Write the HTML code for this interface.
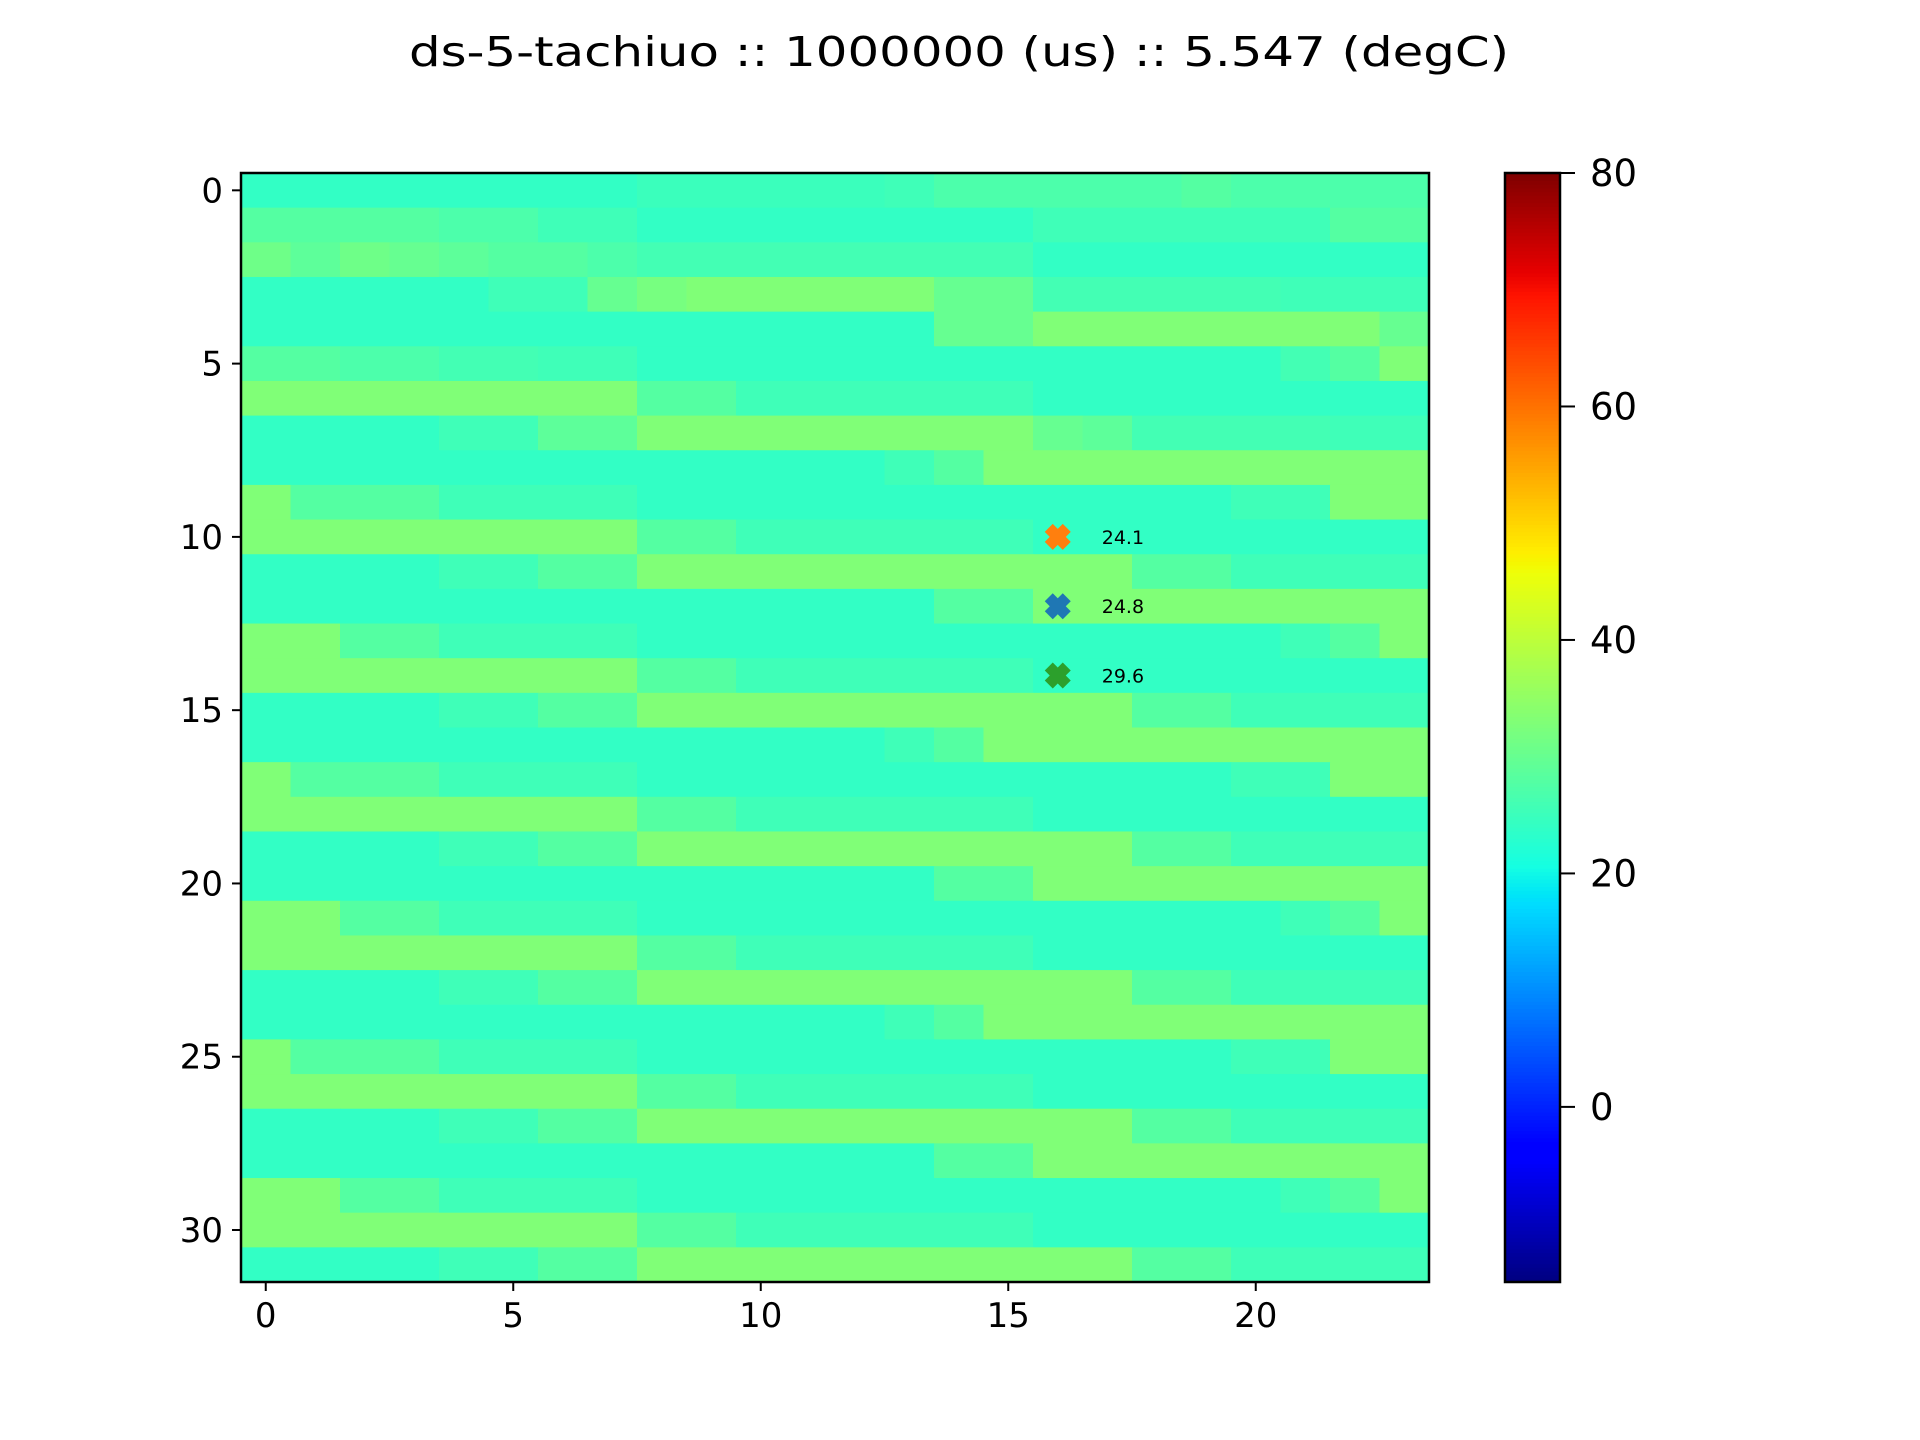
<!DOCTYPE html>
<html><head><meta charset="utf-8"><style>html,body{margin:0;padding:0;background:#fff}svg{display:block}text{font-family:"DejaVu Sans","Liberation Sans",sans-serif}</style></head>
<body>
<svg id="chart" width="1920" height="1440" viewBox="0 0 1920 1440" xmlns="http://www.w3.org/2000/svg">
<rect width="1920" height="1440" fill="#fff"/>
<text x="959" y="66" font-size="41" text-anchor="middle" textLength="1100" lengthAdjust="spacingAndGlyphs">ds-5-tachiuo :: 1000000 (us) :: 5.547 (degC)</text>
<g id="cells"></g>
<g id="markers"></g>
<rect x="241" y="173" width="1188" height="1109" fill="none" stroke="#000" stroke-width="2.5"/>
<g id="axes"></g>
<g id="cbar"></g>
<rect x="1505" y="173" width="55" height="1109" fill="none" stroke="#000" stroke-width="2.5"/>
</svg>
<script>
const A1=[24,24,24,24,24,24,24,24,24,24,24,24,24,25.5,28,33,33,33,33,33,33,33,33,33];
const A2=[24,24,24,24,24,24,24,24,24,24,24,24,24,24,28,28,33,33,33,33,33,33,33,33];
const B1=[33,28,28,28,25.5,25.5,25.5,25.5,24,24,24,24,24,24,24,24,24,24,24,24,25.5,25.5,33,33];
const B2=[33,33,28,28,25.5,25.5,25.5,25.5,24,24,24,24,24,24,24,24,24,24,24,24,24,25.5,28,33];
const C1=[33,33,33,33,33,33,33,33,28,28,25.5,25.5,25.5,25.5,25.5,25.5,24,24,24,24,24,24,24,24];
const D1=[24,24,24,24,25.5,25.5,28,28,33,33,33,33,33,33,33,33,33,33,28,28,25.5,25.5,25.5,25.5];
const grid=[
[24,24,24,24,24,24,24,24,25,25,25,25,25,25.5,27,27,27,27,27,28,27,27,27,27],
[28,28,28,28,27,27,25.5,25.5,24,24,24,24,24,24,24,24,25.5,25.5,25.5,25.5,25.5,25.5,28,28],
[31,29,31,30,29,28,28,27,26,26,26,26,26,26,26,26,24,24,24,24,24,24,24,24],
[24,24,24,24,24,25.5,25.5,30,32,33,33,33,33,33,30,30,26,26,26,26,26,25.5,25.5,25.5],
[24,24,24,24,24,24,24,24,24,24,24,24,24,24,30,30,33,33,33,33,33,33,33,30],
[28,28,27,27,26,26,25.5,25.5,24,24,24,24,24,24,24,24,24,24,24,24,24,26,28,33],
C1,
[24,24,24,24,25.5,25.5,29,29,33,33,33,33,33,33,33,33,30,29,26,26,26,26,25.5,25.5],
A1,B1,C1,D1,A2,B2,C1,D1,A1,B1,C1,D1,A2,B2,C1,D1,A1,B1,C1,D1,A2,B2,C1,D1];
const markerRows=[10,12,14];
const markerCols=[16,16,16];
const markerLabels=["24.1","24.8","29.6"];
const markerColors=["#ff7f0e","#1f77b4","#2ca02c"];
const xTicks=[0,5,10,15,20];
const yTicks=[0,5,10,15,20,25,30];
const cbTicks=[0,20,40,60,80];
const vmin=-15,vmax=80;
const NS="http://www.w3.org/2000/svg";
const X0=241,Y0=173,W=1188,H=1109,nC=24,nR=32;
const cw=W/nC,ch=H/nR;
function xs(c){return X0+c*cw;}
function ys(r){return Y0+r*ch;}
function cbY(v){return 173+(vmax-v)/(vmax-vmin)*1109;}
function interp(pts,t){for(let i=1;i<pts.length;i++){if(t<=pts[i][0]){const a=pts[i-1],b=pts[i];return a[1]+(b[1]-a[1])*(t-a[0])/(b[0]-a[0]);}}return pts[pts.length-1][1];}
const JR=[[0,0],[0.35,0],[0.66,1],[0.89,1],[1,0.5]],JG=[[0,0],[0.125,0],[0.375,1],[0.64,1],[0.91,0],[1,0]],JB=[[0,0.5],[0.11,1],[0.34,1],[0.65,0],[1,0]];
function jet(v){let t=Math.max(0,Math.min(1,(v-vmin)/(vmax-vmin)));return `rgb(${Math.round(255*interp(JR,t))},${Math.round(255*interp(JG,t))},${Math.round(255*interp(JB,t))})`;}
function mk(tag,attrs,parent){const e=document.createElementNS(NS,tag);for(const k in attrs)e.setAttribute(k,attrs[k]);parent.appendChild(e);return e;}
const cells=document.getElementById('cells');
grid.forEach((row,r)=>row.forEach((v,c)=>{
 const e=mk('rect',{x:xs(c),y:ys(r),width:cw+0.6,height:ch+0.6,fill:jet(v)},cells);
 
 
}));
const mg=document.getElementById('markers');
markerRows.forEach((r,i)=>{
 const cx=xs(markerCols[i]+0.5),cy=ys(r+0.5),s=13,w=8;
 const p=`M${cx-s},${cy-s+w}L${cx-s+w},${cy-s}L${cx},${cy-w}L${cx+s-w},${cy-s}L${cx+s},${cy-s+w}L${cx+w},${cy}L${cx+s},${cy+s-w}L${cx+s-w},${cy+s}L${cx},${cy+w}L${cx-s+w},${cy+s}L${cx-s},${cy+s-w}L${cx-w},${cy}Z`;
 const m=mk('path',{d:p,fill:markerColors[i]},mg);
 
 
 const t=mk('text',{x:cx+44,y:cy+7,'font-size':19},mg);t.textContent=markerLabels[i];
 
 
});
const ax=document.getElementById('axes');
xTicks.forEach(v=>{const x=xs(v+0.5);
 const l=mk('line',{x1:x,x2:x,y1:1282,y2:1291,stroke:'#000','stroke-width':2},ax);
 
 
 const t=mk('text',{x:x,y:1327,'font-size':34,'text-anchor':'middle'},ax);t.textContent=v;
 
 });
yTicks.forEach(v=>{const y=ys(v+0.5);
 const l=mk('line',{x1:232,x2:241,y1:y,y2:y,stroke:'#000','stroke-width':2},ax);
 
 
 const t=mk('text',{x:223,y:y+12,'font-size':34,'text-anchor':'end'},ax);t.textContent=v;
 
 });
const cb=document.getElementById('cbar');
for(let i=0;i<300;i++){const v0=vmin+(vmax-vmin)*i/300,v1=vmin+(vmax-vmin)*(i+1)/300;
 const e=mk('rect',{x:1505,y:cbY(v1),width:55,height:cbY(v0)-cbY(v1)+0.6,fill:jet((v0+v1)/2)},cb);
 
 }
cbTicks.forEach(v=>{const y=cbY(v);
 const l=mk('line',{x1:1560,x2:1575,y1:y,y2:y,stroke:'#000','stroke-width':2},cb);
 
 
 const t=mk('text',{x:1590,y:y+13,'font-size':37},cb);t.textContent=v;
 
 });
</script>
</body></html>
